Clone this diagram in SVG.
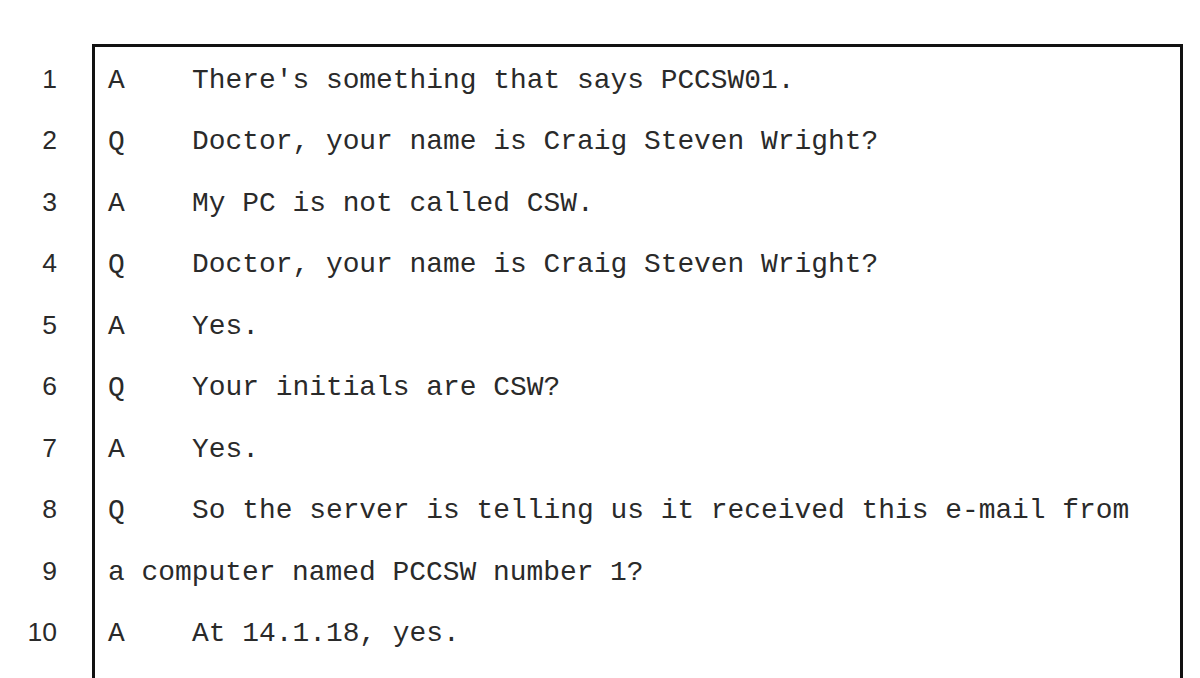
<svg xmlns="http://www.w3.org/2000/svg" width="1200" height="678" viewBox="0 0 1200 678">
<style>
.num{font-family:"Liberation Sans",Arial,sans-serif;font-size:26.5px;fill:#2a2a2a;text-anchor:end}
.t{font-family:"Liberation Mono","Courier New",monospace;font-size:27.9px;fill:#2a2a2a}
</style>
<rect width="1200" height="678" fill="#fff"/>
<path id="frame" d="M93.5,690 V45.5 H1181.5 V690" fill="none" stroke="#111" stroke-width="3"/>
<g id="line1"><text class="num" x="57" y="88">1</text><text class="t" x="108" y="88">A</text><text class="t" x="192" y="88">There's something that says PCCSW01.</text></g>
<g id="line2"><text class="num" x="57" y="149.4">2</text><text class="t" x="108" y="149.4">Q</text><text class="t" x="192" y="149.4">Doctor, your name is Craig Steven Wright?</text></g>
<g id="line3"><text class="num" x="57" y="210.9">3</text><text class="t" x="108" y="210.9">A</text><text class="t" x="192" y="210.9">My PC is not called CSW.</text></g>
<g id="line4"><text class="num" x="57" y="272.3">4</text><text class="t" x="108" y="272.3">Q</text><text class="t" x="192" y="272.3">Doctor, your name is Craig Steven Wright?</text></g>
<g id="line5"><text class="num" x="57" y="333.8">5</text><text class="t" x="108" y="333.8">A</text><text class="t" x="192" y="333.8">Yes.</text></g>
<g id="line6"><text class="num" x="57" y="395.2">6</text><text class="t" x="108" y="395.2">Q</text><text class="t" x="192" y="395.2">Your initials are CSW?</text></g>
<g id="line7"><text class="num" x="57" y="456.6">7</text><text class="t" x="108" y="456.6">A</text><text class="t" x="192" y="456.6">Yes.</text></g>
<g id="line8"><text class="num" x="57" y="518.1">8</text><text class="t" x="108" y="518.1">Q</text><text class="t" x="192" y="518.1">So the server is telling us it received this e-mail from</text></g>
<g id="line9"><text class="num" x="57" y="579.5">9</text><text class="t" x="108" y="579.5">a computer named PCCSW number 1?</text></g>
<g id="line10"><text class="num" x="57" y="641">10</text><text class="t" x="108" y="641">A</text><text class="t" x="192" y="641">At 14.1.18, yes.</text></g>
</svg>
